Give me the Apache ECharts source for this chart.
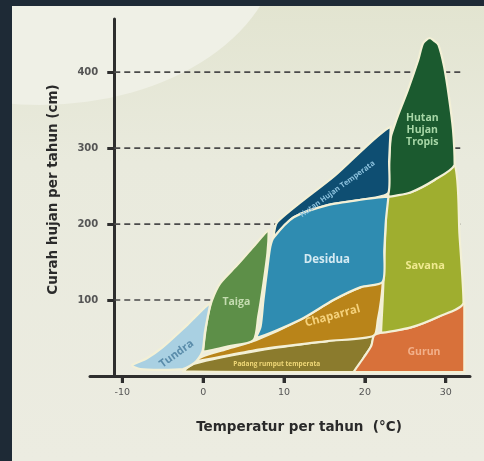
<!DOCTYPE html>
<html><head><meta charset="utf-8">
<script src="https://cdn.jsdelivr.net/npm/echarts@6/dist/echarts.min.js"></script>
<style>
html,body{margin:0;padding:0;width:484px;height:461px;overflow:hidden;}
#wrap{position:relative;width:484px;height:461px;background:linear-gradient(#e2e4d0, #e9eadd 35%, #ecece1);overflow:hidden}
#blob{position:absolute;left:-200px;top:-225px;width:480px;height:330px;border-radius:50%;background:#eff0e6}
#fl{position:absolute;left:0;top:0;width:12px;height:461px;background:#1e2a36}
#ft{position:absolute;left:0;top:0;width:484px;height:6px;background:#1e2a36}
#chart{position:absolute;left:0;top:0;width:484px;height:461px}
</style></head>
<body>
<div id="wrap"><div id="blob"></div><div id="chart"></div><div id="fl"></div><div id="ft"></div></div>
<script>
// ---- data (temperature °C, precipitation cm) ----
const xTicks = [-10, 0, 10, 20, 30];
const yTicks = [100, 200, 300, 400];
const xTitle = 'Temperatur per tahun  (°C)';
const yTitle = 'Curah hujan per tahun (cm)';

const tundra = [[-8.8,14],[-7,23],[-5,38],[-2,67],[0.9,96],[0.6,80],[0.2,57],[-0.1,32],[-1,18],[-2.5,9],[-5.3,8],[-7.8,9]];
const taiga = [[0,32],[0.25,57],[0.6,80],[1.1,100],[2.1,122],[4.2,146],[6.2,170],[8.1,192],[7.95,162],[7.45,122],[6.8,78],[6.2,47],[3.1,39]];
const desidua = [[8.7,182],[11.2,209],[15.4,225],[19.5,232],[22.9,236],[22.6,205],[22.4,166],[22.2,124],[19.5,117],[16.1,100],[12,74],[6.5,50],[7.1,65],[7.45,100],[7.95,143],[8.3,170]];
const temperata = [[8.7,183],[9.2,203],[16.2,263],[23.2,328],[23,284],[22.9,241],[19.5,232],[15.4,225],[11.2,209]];
const tropis = [[22.9,236],[23,280],[23.2,314],[23.6,328],[24.2,346],[25.3,376],[26.6,416],[27.2,438],[28,445],[28.6,441],[29.1,436],[29.8,407],[30.4,367],[30.9,324],[31.1,278],[28.6,258],[25.7,242]];
const savana = [[22.9,236],[25.7,242],[28.6,258],[31.1,278],[31.7,186],[32.2,96],[29.1,78],[25.7,64],[22,57],[22.2,100],[22.4,153],[22.6,205]];
const gurun = [[21.1,53],[22,57],[25.7,64],[29.1,78],[32.3,96],[32.3,5],[18.6,5],[19.9,25],[20.8,40]];
const chaparral = [[-1.2,19],[0,26],[3.1,36],[6.5,47],[12,74],[16.1,100],[19.5,117],[22.2,124],[22,100],[21.6,74],[21.1,53],[15.4,46],[7.1,35]];
const padang = [[-2.5,6],[-1.2,16],[7.1,34],[15.4,46],[21.1,53],[20.8,40],[19.9,25],[18.6,5]];

const biomeNames = ['Padang rumput temperata','Chaparral','Gurun','Savana','Hutan Hujan Tropis','Hutan Hujan Temperata','Desidua','Taiga','Tundra'];
const biomeShapes = [padang, chaparral, gurun, savana, tropis, temperata, desidua, taiga, tundra];

// ---- styles / label placement (data coords for anchors) ----
const fills = ['#8b7b2d','#b98419','#d8713a','#9fae2f','#1b5a2f','#0e4e72','#2f8cb1','#5d8f48','#a9d0e2'];
const labelCfg = [
  {text:'Padang rumput temperata', at:[9.1,15.5], rot:0, color:'#f0d878', size:6.5},
  {text:'Chaparral', at:[16,79], rot:15, color:'#f5d27c', size:11.5},
  {text:'Gurun', at:[27.3,31.6], rot:0, color:'#f2b08a', size:10.5},
  {text:'Savana', at:[27.45,145], rot:0, color:'#f0ea90', size:11},
  {text:'Hutan\nHujan\nTropis', at:[27.1,324], rot:0, color:'#a6d6a6', size:10.5},
  {text:'Hutan Hujan Temperata', at:[16.6,246], rot:36, color:'#8cc2de', size:7.5},
  {text:'Desidua', at:[15.3,153], rot:0, color:'#d4eaf2', size:11.5},
  {text:'Taiga', at:[4.1,97], rot:0, color:'#c4dcb0', size:10.5},
  {text:'Tundra', at:[-3.3,29], rot:36, color:'#5a8caa', size:11}
];
const gridFrom = -11, gridTo = 32;
const FONT = '"Open Sans", "DejaVu Sans", sans-serif';
const AXFONT = '"DejaVu Sans", sans-serif';

const chart = echarts.init(document.getElementById('chart'));
const gridSeries = yTicks.map(v => ({
  type:'line', data:[[gridFrom,v],[gridTo,v]], symbol:'none', silent:true, z:1,
  lineStyle:{color:'#4a4a4a', width:1.6, type:[6,4]}
}));

function bbox(pts){
  let x0=Infinity,y0=Infinity,x1=-Infinity,y1=-Infinity;
  pts.forEach(p=>{x0=Math.min(x0,p[0]);y0=Math.min(y0,p[1]);x1=Math.max(x1,p[0]);y1=Math.max(y1,p[1]);});
  return [[x0,y0],[x1,y1]];
}

const option = {
  animation:false,
  grid:{left:90, right:14, top:19, bottom:85},
  xAxis:{
    type:'value', min:-14, max:33,
    name:xTitle, nameLocation:'middle', nameGap:44,
    nameTextStyle:{fontFamily:AXFONT, fontWeight:'bold', fontSize:13.5, color:'#2a2a2a', padding:[0,0,0,38]},
    axisLine:{show:true, onZero:false, lineStyle:{color:'#2e2e2e', width:3}},
    axisTick:{show:true, customValues:xTicks, length:7, lineStyle:{color:'#2e2e2e', width:3}},
    axisLabel:{customValues:xTicks, margin:12, fontFamily:AXFONT, fontSize:9.5, color:'#555'},
    splitLine:{show:false}
  },
  yAxis:{
    type:'value', min:0, max:470, offset:-24,
    name:yTitle, nameLocation:'middle', nameGap:54, nameRotate:90,
    nameTextStyle:{fontFamily:AXFONT, fontWeight:'bold', fontSize:13.5, color:'#2a2a2a', padding:[0,0,0,16]},
    axisLine:{show:true, onZero:false, lineStyle:{color:'#2e2e2e', width:3}},
    axisTick:{show:true, customValues:yTicks, length:7, lineStyle:{color:'#2e2e2e', width:3}},
    axisLabel:{customValues:yTicks, margin:16, fontFamily:AXFONT, fontSize:10, fontWeight:'bold', color:'#555'},
    splitLine:{show:false}
  },
  series: gridSeries.concat([
    {
      type:'custom', z:5, clip:false, silent:true,
      data: biomeShapes.map((s,i)=>labelCfg[i].at),
      renderItem(params, api){
        const pts = biomeShapes[params.dataIndex].map(p => api.coord(p));
        return {type:'polygon', shape:{points:pts, smooth:0.25, smoothConstraint:bbox(pts)},
          style:{fill:fills[params.dataIndex], stroke:'#f3f0d6', lineWidth:2.2}};
      }
    },
    {
      type:'custom', z:6, clip:false, silent:true,
      data: labelCfg.map(l => l.at),
      renderItem(params, api){
        const l = labelCfg[params.dataIndex];
        const c = api.coord(l.at);
        return {type:'text', x:c[0], y:c[1], rotation:l.rot*Math.PI/180,
          style:{text:l.text, fill:l.color, fontFamily:FONT, fontWeight:'bold', fontSize:l.size,
            align:'center', verticalAlign:'middle', lineHeight:l.size*1.15}};
      }
    },
    {
      // x-axis tick marks (downward) at the tick values
      type:'custom', z:20, clip:false, silent:true,
      data: xTicks.map(v => [v, 0]),
      renderItem(params, api){
        const c = api.coord([api.value(0), 0]);
        return {type:'line', shape:{x1:c[0], y1:c[1], x2:c[0], y2:c[1]+7},
          style:{stroke:'#2e2e2e', lineWidth:3}};
      }
    }
  ])
};
chart.setOption(option);
// place y axis line at T = -11 using the axis scale
const pxAxis = chart.convertToPixel({xAxisIndex:0}, gridFrom);
chart.setOption({yAxis:{offset: -(pxAxis - 90)}});
</script>
</body></html>
